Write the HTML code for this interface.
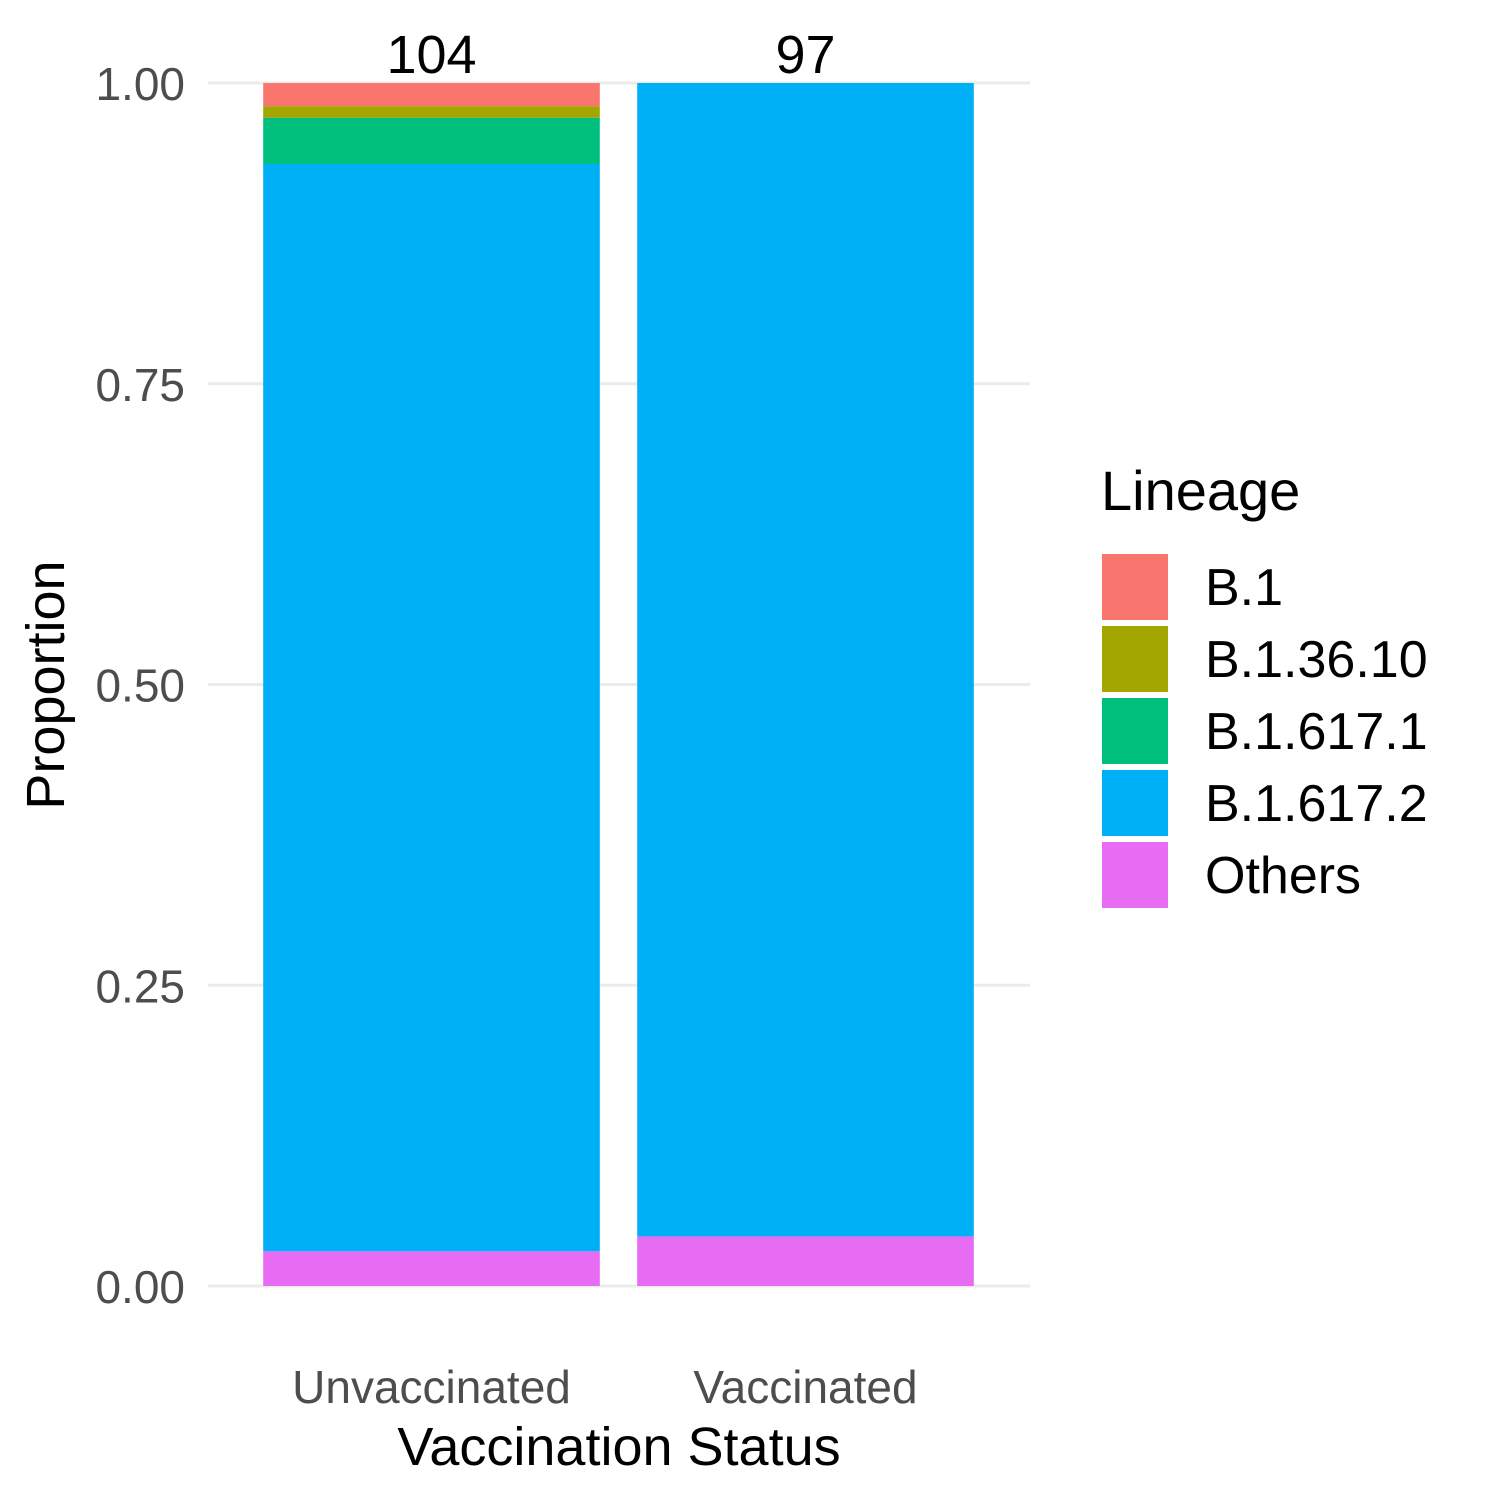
<!DOCTYPE html>
<html><head><meta charset="utf-8"><style>
html,body{margin:0;padding:0;background:#fff;}
svg{display:block;font-family:"Liberation Sans",sans-serif;}
</style></head><body>
<svg id="chart" width="1500" height="1500"></svg>
<script>
const categories = ["Unvaccinated", "Vaccinated"];
const lineages = ["B.1", "B.1.36.10", "B.1.617.1", "B.1.617.2", "Others"];
const colors = ["#F8766D", "#A3A500", "#00BF7D", "#00B0F6", "#E76BF3"];
const unvaccinatedCounts = [2, 1, 4, 94, 3];
const vaccinatedCounts = [0, 0, 0, 93, 4];
const yTicks = [0, 0.25, 0.5, 0.75, 1];
const yTickLabels = ["0.00", "0.25", "0.50", "0.75", "1.00"];

const NS = "http://www.w3.org/2000/svg";
const svg = document.getElementById("chart");
function mk(tag, attrs, text) {
  const e = document.createElementNS(NS, tag);
  for (const k in attrs) e.setAttribute(k, attrs[k]);
  if (text !== undefined) e.textContent = text;
  svg.appendChild(e);
  return e;
}
const plotL = 208, plotR = 1030, y0 = 1286, y1 = 83;
const yScale = v => y0 - v * (y0 - y1);
const band = 374;
const firstCenter = 431.5;
const xCenter = i => firstCenter + band * i;
const barW = band * 0.9;

yTicks.forEach((t, i) => {
  const g = mk("line", {x1: plotL, x2: plotR, y1: yScale(t), y2: yScale(t), stroke: "#ebebeb", "stroke-width": 3});
  
  
  const l = mk("text", {x: 185, y: yScale(t) + 17, "text-anchor": "end", "font-size": 46, fill: "#4d4d4d"}, yTickLabels[i]);
  
  
});

const allCounts = [unvaccinatedCounts, vaccinatedCounts];
allCounts.forEach((counts, ci) => {
  const total = counts.reduce((a, b) => a + b, 0);
  let cum = 0;
  for (let s = counts.length - 1; s >= 0; s--) {
    const p = counts[s] / total;
    if (p > 0) {
      const r = mk("rect", {x: xCenter(ci) - barW / 2, y: yScale(cum + p), width: barW, height: yScale(cum) - yScale(cum + p), fill: colors[s]});
      
      
    }
    cum += p;
  }
  const t = mk("text", {x: xCenter(ci), y: 73, "text-anchor": "middle", "font-size": 54, fill: "#000"}, String(total));
  
  
  const xl = mk("text", {x: xCenter(ci), y: 1403, "text-anchor": "middle", "font-size": 46, fill: "#4d4d4d"}, categories[ci]);
  
  
});

const xt = mk("text", {x: 619, y: 1465, "text-anchor": "middle", "font-size": 54, fill: "#000"}, "Vaccination Status");


const yt = mk("text", {x: 0, y: 0, "text-anchor": "middle", "font-size": 54, fill: "#000", transform: "translate(64,685) rotate(-90)"}, "Proportion");



const lt = mk("text", {x: 1101, y: 510, "font-size": 56, fill: "#000"}, "Lineage");


lineages.forEach((name, i) => {
  const ky = 554 + i * 72;
  const k = mk("rect", {x: 1102, y: ky, width: 66, height: 66, fill: colors[i]});
  
  
  const lb = mk("text", {x: 1205, y: ky + 51, "font-size": 52, fill: "#000"}, name);
  
  
});
</script>
</body></html>
